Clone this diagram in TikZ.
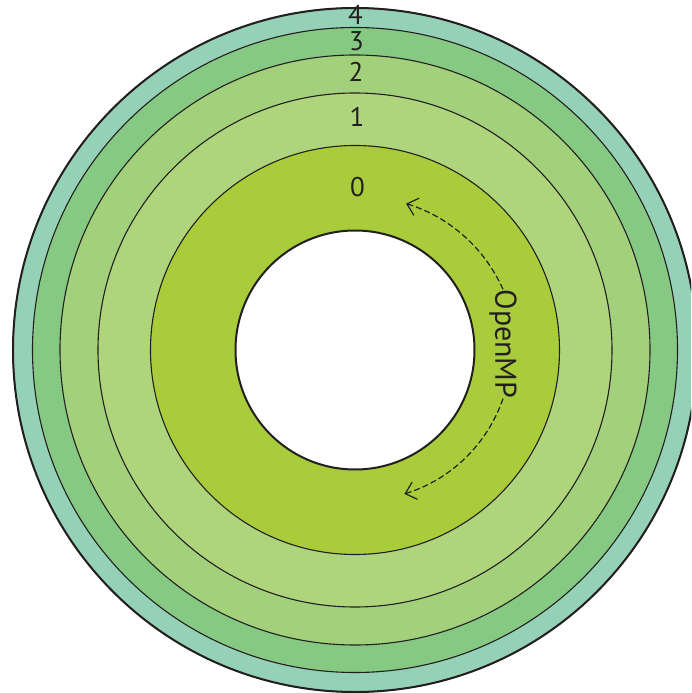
\documentclass[tikz,border=0pt]{standalone}
\usepackage{fontspec}
\setsansfont{PT Sans}
\usetikzlibrary{arrows.meta}
\usepackage{xcolor}
\definecolor{ringfour}{RGB}{148,209,182}
\definecolor{ringthree}{RGB}{134,201,131}
\definecolor{ringtwo}{RGB}{163,209,123}
\definecolor{ringone}{RGB}{174,213,124}
\definecolor{ringzero}{RGB}{169,205,58}
\definecolor{figline}{RGB}{35,31,32}

\begin{document}
\begin{tikzpicture}[x=1pt,y=1pt,>=Stealth,font=\sffamily]

% canvas, centre of the disc at (0,0), right rim cut off
\useasboundingbox (-355,-343) rectangle (336,350);
\clip (-355,-343) rectangle (336,350);
\fill[white] (-355,-343) rectangle (336,350);

\tikzset{
  ringedge/.style={
    draw=figline,
    line width=1.1pt
  },
  rimedge/.style={
    draw=figline,
    line width=2pt
  },
  ringlabel/.style={
    text=figline,
    font=\sffamily\fontsize{27}{29}\selectfont,
    inner sep=0pt
  },
  looplabel/.style={
    text=figline,
    font=\sffamily\fontsize{30}{32}\selectfont,
    inner sep=0pt,
    rotate=-90
  },
  loopflow/.style={
    draw=figline,
    line width=1.2pt,
    dash pattern=on 6pt off 3pt,
    -{Straight Barb[length=10pt,width=18pt]}
  }
}

% rings, outside in
\foreach \r/\c in {342/ringfour,322.5/ringthree,295/ringtwo,257/ringone,204.5/ringzero}{
  \fill[\c] (0,0) circle (\r);
  \draw[ringedge] (0,0) circle (\r);
}
\draw[rimedge] (0,0) circle (342);

% hole in the middle
\filldraw[fill=white,rimedge] (0,0) circle (119.5);

% level numbers
\node[ringlabel] (l4) at (0.5,335) {4};
\node[ringlabel] (l3) at (1.5,309) {3};
\node[ringlabel] (l2) at (1,278) {2};
\node[ringlabel] (l1) at (2,233) {1};
\node[ringlabel] (l0) at (2.5,163) {0};

% openmp loop round level 0
\node[looplabel] (omp) at (148,6) {OpenMP};

\draw[loopflow] (omp.west) arc[start angle=24,end angle=73,radius=156];
\draw[loopflow] (omp.east) arc[start angle=-19,end angle=-73,radius=151];

\end{tikzpicture}
\end{document}
